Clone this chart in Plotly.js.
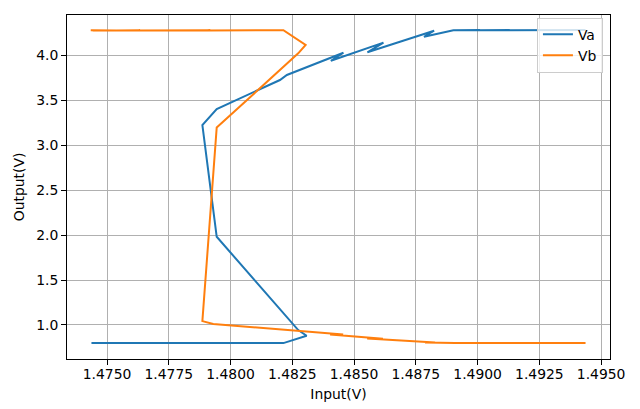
<!DOCTYPE html>
<html>
<head>
<meta charset="utf-8">
<script src="https://cdn.plot.ly/plotly-3.0.1.min.js"></script>
<style>
  html, body { margin: 0; padding: 0; background: #fff; }
  #chart { width: 640px; height: 409px; }
</style>
</head>
<body>
<div id="chart"></div>
<script>
// Va (blue) sweep: input voltage and output voltage
const vaInput = [1.47437, 1.48214, 1.48308, 1.48274, 1.47944, 1.47886, 1.47944, 1.48200, 1.48228,
                 1.48457, 1.48406, 1.48619, 1.48554, 1.48824, 1.48783, 1.48902, 1.49010, 1.48998,
                 1.49130, 1.49118, 1.49437];
const vaOutput = [0.798, 0.798, 0.880, 0.943, 1.982, 3.226, 3.404, 3.727, 3.783,
                  4.031, 3.942, 4.143, 4.036, 4.276, 4.209, 4.282, 4.283, 4.280,
                  4.283, 4.281, 4.283];

// Vb (orange) sweep
const vbInput = [1.47434, 1.47539, 1.47442, 1.47634, 1.47628, 1.47918, 1.47906, 1.48214, 1.48304,
                 1.48274, 1.47944, 1.47886, 1.47930, 1.48456, 1.48403, 1.48617, 1.48553, 1.48828,
                 1.48787, 1.48909, 1.48903, 1.49010, 1.49004, 1.49229, 1.49223, 1.49437];
const vbOutput = [4.281, 4.279, 4.275, 4.281, 4.279, 4.281, 4.279, 4.281, 4.117,
                  4.024, 3.198, 1.043, 1.010, 0.893, 0.895, 0.847, 0.850, 0.806,
                  0.804, 0.798, 0.800, 0.798, 0.800, 0.798, 0.800, 0.798];

const seriesNames = ['Va', 'Vb'];
const xTitle = 'Input(V)';
const yTitle = 'Output(V)';

const font = {family: 'DejaVu Sans, sans-serif', size: 13.9, color: '#000'};

const traces = [
  {x: vaInput, y: vaOutput, name: seriesNames[0], mode: 'lines', type: 'scatter',
   line: {color: '#1f77b4', width: 2}},
  {x: vbInput, y: vbOutput, name: seriesNames[1], mode: 'lines', type: 'scatter',
   line: {color: '#ff7f0e', width: 2}}
];

const axisCommon = {
  showline: true, mirror: true, linecolor: '#000', linewidth: 1,
  ticks: 'outside', ticklen: 5, tickwidth: 1, tickcolor: '#000',
  showgrid: true, gridcolor: '#b0b0b0', gridwidth: 1,
  zeroline: false, tickfont: font
};

const layout = {
  width: 640, height: 409,
  margin: {l: 67, r: 30, t: 15, b: 50},
  paper_bgcolor: '#fff', plot_bgcolor: '#fff',
  font: font,
  showlegend: true,
  legend: {
    x: 0.987, xanchor: 'right', y: 0.992, yanchor: 'top',
    bgcolor: 'rgba(255,255,255,0.8)', bordercolor: '#cccccc', borderwidth: 1,
    font: font
  },
  xaxis: Object.assign({}, axisCommon, {
    range: [1.47338, 1.49536], tick0: 1.475, dtick: 0.0025, tickformat: '.4f',
    ticklabelstandoff: -3,
    title: {text: xTitle, font: font, standoff: 8}
  }),
  yaxis: Object.assign({}, axisCommon, {
    range: [0.621, 4.451], tick0: 1.0, dtick: 0.5, tickformat: '.1f',
    title: {text: yTitle, font: font, standoff: 8}
  })
};

Plotly.newPlot('chart', traces, layout, {displayModeBar: false, staticPlot: true});
</script>
</body>
</html>
